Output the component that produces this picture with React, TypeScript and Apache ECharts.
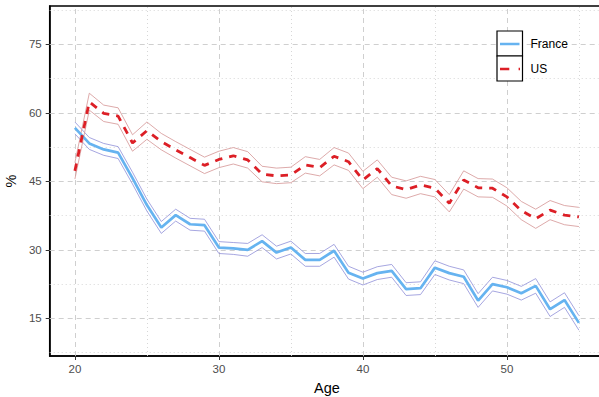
import React, { useEffect, useRef } from "react";
import * as echarts from "echarts";

const ages = [20,21,22,23,24,25,26,27,28,29,30,31,32,33,34,35,36,37,38,39,40,41,42,43,44,45,46,47,48,49,50,51,52,53,54,55];

const franceMean = [56.7,53.3,52.0,51.3,45.7,39.8,34.9,37.6,35.6,35.4,30.5,30.3,30.0,31.9,29.4,30.5,27.8,27.8,29.8,25.0,23.7,24.9,25.4,21.4,21.6,26.1,24.9,24.1,18.9,22.5,21.8,20.5,22.1,17.0,19.0,14.0];
const franceUpper = [58.0,54.6,53.3,52.6,47.0,41.1,36.2,38.9,36.9,36.7,31.8,31.6,31.4,33.3,30.8,31.9,29.2,29.2,31.2,26.4,25.1,26.3,26.8,22.8,23.0,27.6,26.4,25.6,20.4,24.0,23.3,22.0,23.7,18.6,20.6,15.6];
const franceLower = [55.4,52.0,50.7,50.0,44.4,38.5,33.6,36.3,34.3,34.1,29.2,29.0,28.6,30.5,28.0,29.1,26.4,26.4,28.4,23.6,22.3,23.5,24.0,20.0,20.2,24.6,23.4,22.6,17.4,21.0,20.3,19.0,20.5,15.4,17.4,12.4];

const usMean = [47.3,62.4,59.9,59.3,53.4,56.1,53.7,51.9,50.2,48.5,49.8,50.6,49.7,46.6,46.2,46.4,48.6,48.0,50.5,49.3,45.3,47.8,44.0,43.2,44.2,43.5,40.2,45.3,43.6,43.5,41.6,38.6,36.8,38.7,37.6,37.2];
const usUpper = [49.1,64.3,61.7,61.1,55.2,58.0,55.5,53.7,52.0,50.3,51.6,52.4,51.5,48.3,47.9,48.1,50.4,49.8,52.4,51.2,47.2,49.7,45.9,45.1,46.1,45.4,42.1,47.3,45.6,45.5,43.6,40.6,38.9,40.8,39.7,39.3];
const usLower = [45.5,60.6,58.1,57.5,51.6,54.2,51.9,50.1,48.4,46.7,48.0,48.8,47.9,44.9,44.5,44.7,46.8,46.2,48.6,47.4,43.4,45.9,42.1,41.3,42.3,41.6,38.3,43.3,41.6,41.5,39.6,36.6,34.7,36.6,35.5,35.1];

const yTicks = [15, 30, 45, 60, 75];
const yMinor = [7.5, 22.5, 37.5, 52.5, 67.5, 82.5];
const xTicks = [20, 30, 40, 50];
const xMinor = [25, 35, 45, 55];

const seriesNames = ["France", "US"];

const FR_COLOR = "#66b3f0";
const FR_BAND = "#8f8fd8";
const US_COLOR = "#dc1f26";
const US_BAND = "#d49494";

const pairs = (vals: number[]) => ages.map((a, i) => [a, vals[i]]);

export default function App() {
  const ref = useRef<HTMLDivElement>(null);
  useEffect(() => {
    if (!ref.current) return;
    const chart = echarts.init(ref.current, undefined, { renderer: "svg" });
    const font = "Liberation Sans, Arial, sans-serif";
    const majorStyle = { color: "#c9c9c9", width: 0.9, type: [5, 4] as any };
    const minorStyle = { color: "#d2d2d2", width: 0.9, type: [1, 3] as any };
    const band = (name: string, vals: number[], color: string) => ({
      type: "line",
      name,
      data: pairs(vals),
      showSymbol: false,
      symbol: "none",
      z: 10,
      lineStyle: { color, width: 0.8 },
      silent: true,
    });
    chart.setOption({
      animation: false,
      backgroundColor: "#ffffff",
      grid: {
        left: 49.7,
        top: 6,
        width: 554.4,
        height: 350,
        outerBoundsMode: "none",
        containLabel: false,
        show: true,
        borderColor: "#000",
        borderWidth: 1.5,
        backgroundColor: "#fff",
      },
      xAxis: {
        type: "value",
        min: 18.25,
        max: 56.75,
        name: "Age",
        nameLocation: "middle",
        nameGap: 24,
        nameTextStyle: { fontFamily: font, fontSize: 14.5, color: "#000" },
        axisLine: { show: true, lineStyle: { color: "#000", width: 1.5 } },
        axisTick: { show: true, customValues: xTicks, length: 4, lineStyle: { color: "#333", width: 1 } },
        axisLabel: { customValues: xTicks, color: "#4d4d4d", fontSize: 11.5, fontFamily: font, margin: 7 },
        splitLine: { show: false },
      },
      yAxis: {
        type: "value",
        min: 6.75,
        max: 83.4,
        name: "%",
        nameLocation: "middle",
        nameRotate: 90,
        nameGap: 28,
        nameTextStyle: { fontFamily: font, fontSize: 14.5, color: "#000" },
        axisLine: { show: true, lineStyle: { color: "#000", width: 1.5 } },
        axisTick: { show: true, customValues: yTicks, length: 4, lineStyle: { color: "#333", width: 1 } },
        axisLabel: { customValues: yTicks, color: "#4d4d4d", fontSize: 11.5, fontFamily: font, margin: 8 },
        splitLine: { show: false },
      },
      series: [
        {
          type: "line",
          name: "grid",
          data: [],
          silent: true,
          z: 1,
          markLine: {
            silent: true,
            symbol: ["none", "none"],
            label: { show: false },
            animation: false,
            z: 1,
            data: [
              ...yMinor.map((v) => ({ yAxis: v, lineStyle: minorStyle })),
              ...xMinor.map((v) => ({ xAxis: v, lineStyle: minorStyle })),
              ...yTicks.map((v) => ({ yAxis: v, lineStyle: majorStyle })),
              ...xTicks.map((v) => ({ xAxis: v, lineStyle: majorStyle })),
            ],
          },
        },
        band("France upper", franceUpper, FR_BAND),
        band("France lower", franceLower, FR_BAND),
        band("US upper", usUpper, US_BAND),
        band("US lower", usLower, US_BAND),
        {
          type: "line",
          name: seriesNames[0],
          data: pairs(franceMean),
          showSymbol: false,
          symbol: "none",
          z: 11,
          lineStyle: { color: FR_COLOR, width: 2.7 },
        },
        {
          type: "line",
          name: seriesNames[1],
          data: pairs(usMean),
          showSymbol: false,
          symbol: "none",
          z: 12,
          lineStyle: { color: US_COLOR, width: 2.8, type: [7.5, 7] },
        },
      ],
      graphic: [
        { type: "rect", shape: { x: 497, y: 31, width: 25.5, height: 25 }, style: { fill: "#fff", stroke: "#000", lineWidth: 1.2 }, z: 20 },
        { type: "rect", shape: { x: 497, y: 56, width: 25.5, height: 25 }, style: { fill: "#fff", stroke: "#000", lineWidth: 1.2 }, z: 20 },
        { type: "line", shape: { x1: 500, y1: 44, x2: 519.5, y2: 44 }, style: { stroke: FR_COLOR, lineWidth: 2.5 }, z: 21 },
        { type: "line", shape: { x1: 500, y1: 69, x2: 520, y2: 69 }, style: { stroke: US_COLOR, lineWidth: 2.5, lineDash: [9.3, 9.3] }, z: 21 },
        { type: "text", x: 530.5, y: 44, style: { text: seriesNames[0], fill: "#000", fontSize: 12, fontFamily: font, verticalAlign: "middle" }, z: 21 },
        { type: "text", x: 530.5, y: 69, style: { text: seriesNames[1], fill: "#000", fontSize: 12, fontFamily: font, verticalAlign: "middle" }, z: 21 },
      ],
    });
    return () => chart.dispose();
  }, []);
  return (
    <div
      ref={ref}
      style={{ position: "fixed", left: 0, top: 0, width: 599, height: 397, background: "#fff" }}
    />
  );
}
